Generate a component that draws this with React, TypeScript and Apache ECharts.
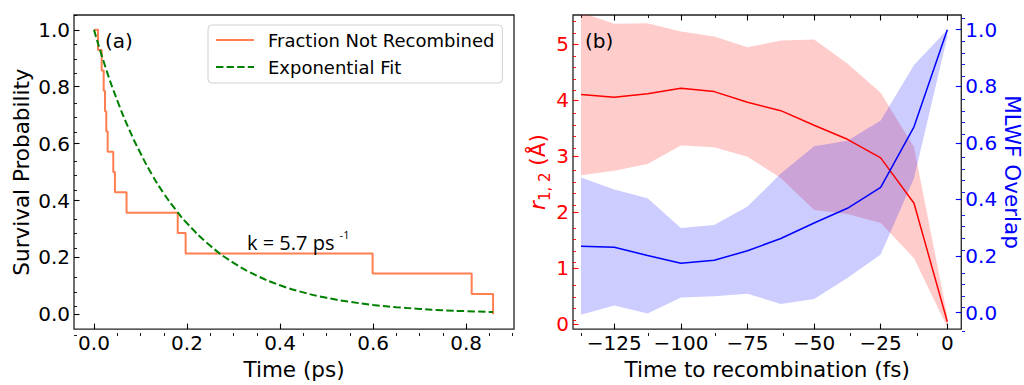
import React, { useEffect, useRef } from "react";
import * as echarts from "echarts";

// ---- Panel (a): survival probability ----
const stepTimes = [0, 0.0086, 0.0165, 0.0208, 0.0236, 0.0264, 0.0294, 0.0414, 0.045, 0.07, 0.18, 0.197, 0.599, 0.812, 0.858];
const stepValues = [1, 0.929, 0.857, 0.786, 0.714, 0.643, 0.571, 0.5, 0.429, 0.357, 0.286, 0.214, 0.143, 0.071, 0];
const fitTimes = [0, 0.025, 0.05, 0.075, 0.1, 0.125, 0.15, 0.175, 0.2, 0.25, 0.3, 0.35, 0.4, 0.45, 0.5, 0.55, 0.6, 0.65, 0.7, 0.75, 0.8, 0.858];
const fitValues = [1, 0.867, 0.752, 0.652, 0.566, 0.49, 0.425, 0.369, 0.32, 0.241, 0.181, 0.136, 0.102, 0.077, 0.058, 0.044, 0.033, 0.025, 0.019, 0.014, 0.011, 0.008];
const xTicksA = [0, 0.2, 0.4, 0.6, 0.8];
const yTicksA = [0, 0.2, 0.4, 0.6, 0.8, 1.0];

// ---- Panel (b): r12 and MLWF overlap ----
const timeToRecomb = [-137.5, -125, -112.5, -100, -87.5, -75, -62.5, -50, -37.5, -25, -12.5, 0];
const r12Mean = [4.1, 4.05, 4.11, 4.21, 4.15, 3.96, 3.81, 3.55, 3.3, 2.97, 2.16, 0.05];
const r12Upper = [5.56, 5.36, 5.37, 5.22, 5.13, 4.94, 5.06, 5.08, 4.65, 4.13, 3.16, 0.15];
const r12Lower = [2.66, 2.74, 2.86, 3.19, 3.16, 2.99, 2.61, 2.04, 1.97, 1.81, 1.18, -0.05];
const overlapMean = [0.235, 0.231, 0.202, 0.175, 0.185, 0.219, 0.262, 0.317, 0.369, 0.443, 0.657, 1.0];
const overlapUpper = [0.478, 0.435, 0.404, 0.299, 0.31, 0.375, 0.492, 0.588, 0.608, 0.679, 0.875, 1.0];
const overlapLower = [-0.007, 0.025, -0.003, 0.054, 0.058, 0.067, 0.031, 0.048, 0.123, 0.206, 0.475, 0.975];
const xTicksB = [-125, -100, -75, -50, -25, 0];
const rTicks = [0, 1, 2, 3, 4, 5];
const oTicks = [0, 0.2, 0.4, 0.6, 0.8, 1.0];

const FONT = "'DejaVu Sans', sans-serif";
const TICK_FS = 20;
const NAME_FS = 21.5;

function minorTicks(min: number, max: number, step: number, major: number): number[] {
  const out: number[] = [];
  const k0 = Math.ceil(min / step - 1e-9);
  const k1 = Math.floor(max / step + 1e-9);
  for (let k = k0; k <= k1; k++) {
    const v = Math.round(k * step * 1e6) / 1e6;
    const r = v / major;
    if (Math.abs(r - Math.round(r)) < 1e-6) continue;
    out.push(v);
  }
  return out;
}

const zip = (a: number[], b: number[]) => a.map((v, i) => [v, b[i]]);

function axis(o: any) {
  const base: any = {
    type: "value",
    gridIndex: o.grid,
    position: o.position,
    min: o.min,
    max: o.max,
    axisLine: { show: false, onZero: false },
    splitLine: { show: false },
    axisTick: {
      show: true,
      inside: true,
      length: o.minor ? 3 : 5.5,
      customValues: o.ticks,
      lineStyle: { color: o.color || "#000", width: o.minor ? 0.9 : 1.1 },
    },
    axisLabel: o.labels
      ? {
          show: true,
          customValues: o.ticks,
          formatter: o.formatter,
          color: o.color || "#000",
          fontSize: TICK_FS,
          fontFamily: FONT,
          margin: o.margin ?? 4,
        }
      : { show: false },
  };
  if (o.name) {
    base.name = o.name;
    base.nameLocation = "middle";
    base.nameGap = o.nameGap;
    if (o.nameRotate != null) base.nameRotate = o.nameRotate;
    base.nameTextStyle = {
      color: o.color || "#000",
      fontSize: NAME_FS,
      fontFamily: FONT,
      ...(o.nameTextStyle || {}),
    };
  }
  return base;
}

const fmt1 = (v: number) => v.toFixed(1);
const fmtMinus = (v: number) => String(Math.round(v)).replace("-", "\u2212");

function bandSeries(xIdx: number, yIdx: number, xs: number[], lo: number[], hi: number[], fill: string) {
  return {
    type: "custom",
    coordinateSystem: "cartesian2d",
    xAxisIndex: xIdx,
    yAxisIndex: yIdx,
    clip: true,
    silent: true,
    data: xs.map((x, i) => [x, lo[i], hi[i]]),
    encode: { x: 0, y: [1, 2] },
    renderItem: (params: any, api: any) => {
      if (params.dataIndex !== 0) return null;
      const pts: number[][] = [];
      for (let i = 0; i < xs.length; i++) pts.push(api.coord([xs[i], hi[i]]));
      for (let i = xs.length - 1; i >= 0; i--) pts.push(api.coord([xs[i], lo[i]]));
      return { type: "polygon", shape: { points: pts }, style: { fill } };
    },
  };
}

export default function App() {
  const ref = useRef<HTMLDivElement>(null);
  useEffect(() => {
    if (!ref.current) return;
    const chart = echarts.init(ref.current, null, { renderer: "svg" });

    const aX = { min: -0.043, max: 0.903 };
    const aY = { min: -0.052, max: 1.052 };
    const bX = { min: -140.5, max: 5.25 };
    const bR = { min: -0.082, max: 5.515 };
    const bO = { min: -0.058, max: 1.052 };

    const gA = { left: 74, top: 15, width: 440, height: 321 };
    const gB = { left: 573, top: 15, width: 392, height: 321 };

    const option: any = {
      animation: false,
      grid: [
        { ...gA, show: true, borderColor: "#222", borderWidth: 1.3, backgroundColor: "transparent" },
        { ...gB, show: true, borderColor: "#222", borderWidth: 1.3, backgroundColor: "transparent" },
        { ...gA, show: false },
        { ...gB, show: false },
      ],
      xAxis: [
        axis({ grid: 0, position: "bottom", ...aX, ticks: xTicksA, labels: true, formatter: fmt1, name: "Time (ps)", nameGap: 28 }),
        axis({ grid: 1, position: "bottom", ...bX, ticks: xTicksB, labels: true, formatter: fmtMinus, name: "Time to recombination (fs)", nameGap: 28 }),
        axis({ grid: 1, position: "top", ...bX, ticks: xTicksB }),
        axis({ grid: 2, position: "bottom", ...aX, ticks: minorTicks(aX.min, aX.max, 0.05, 0.2), minor: true }),
        axis({ grid: 3, position: "bottom", ...bX, ticks: minorTicks(bX.min, bX.max, 12.5, 25), minor: true }),
        axis({ grid: 3, position: "top", ...bX, ticks: minorTicks(bX.min, bX.max, 12.5, 25), minor: true }),
      ],
      yAxis: [
        axis({ grid: 0, position: "left", ...aY, ticks: yTicksA, labels: true, formatter: fmt1, name: "Survival Probability", nameGap: 42 }),
        axis({
          grid: 1, position: "left", ...bR, ticks: rTicks, labels: true, formatter: (v: number) => String(Math.round(v)),
          color: "#ff0000", name: "{i|r}{s|1, 2}{n| (Å)}", nameGap: 14,
          nameTextStyle: {
            rich: {
              i: { fontStyle: "italic", fontSize: NAME_FS, fontFamily: FONT, color: "#ff0000", lineHeight: 30, verticalAlign: "middle" },
              s: { fontSize: 15, fontFamily: FONT, color: "#ff0000", lineHeight: 30, verticalAlign: "bottom" },
              n: { fontSize: NAME_FS, fontFamily: FONT, color: "#ff0000", lineHeight: 30, verticalAlign: "middle" },
            },
          },
        }),
        axis({
          grid: 1, position: "right", ...bO, ticks: oTicks, labels: true, formatter: fmt1,
          color: "#0000ff", name: "MLWF Overlap", nameGap: 39, nameRotate: -90,
        }),
        axis({ grid: 2, position: "left", ...aY, ticks: minorTicks(aY.min, aY.max, 0.05, 0.2), minor: true }),
        axis({ grid: 3, position: "left", ...bR, ticks: minorTicks(bR.min, bR.max, 0.2, 1), minor: true, color: "#ff0000" }),
        axis({ grid: 3, position: "right", ...bO, ticks: minorTicks(bO.min, bO.max, 0.04, 0.2), minor: true, color: "#0000ff" }),
      ],
      legend: {
        data: ["Fraction Not Recombined", "Exponential Fit"],
        orient: "vertical",
        left: 208,
        top: 25,
        itemWidth: 38,
        itemHeight: 18,
        itemGap: 9,
        padding: [6, 8, 7, 7],
        borderColor: "#d0d0d0",
        borderWidth: 1,
        borderRadius: 4,
        backgroundColor: "#ffffff",
        itemStyle: { opacity: 0 },
        textStyle: { fontSize: 18, fontFamily: FONT, color: "#000", padding: [0, 0, 0, 9] },
        selectedMode: false,
      },
      graphic: [
        { type: "text", x: 105, y: 41, z: 100, style: { text: "(a)", font: `20px ${FONT}`, fill: "#000", verticalAlign: "middle" } },
        { type: "text", x: 585, y: 41, z: 100, style: { text: "(b)", font: `20px ${FONT}`, fill: "#000", verticalAlign: "middle" } },
        {
          type: "text", x: 247, y: 242, z: 100,
          style: {
            text: "{a|k = 5.7 ps }{s|-1}",
            verticalAlign: "middle",
            rich: {
              a: { fontSize: 20, fontFamily: "'Open Sans', sans-serif", fill: "#000", lineHeight: 26, verticalAlign: "middle" },
              s: { fontSize: 11, fontFamily: "'Open Sans', sans-serif", fill: "#000", lineHeight: 26, verticalAlign: "top" },
            },
          },
        },
      ],
      series: [
        {
          name: "Fraction Not Recombined",
          type: "line",
          xAxisIndex: 0,
          yAxisIndex: 0,
          step: "end",
          symbol: "none",
          data: zip(stepTimes, stepValues),
          lineStyle: { color: "#ff7f50", width: 2 },
          itemStyle: { color: "#ff7f50" },
          z: 3,
        },
        {
          name: "Exponential Fit",
          type: "line",
          xAxisIndex: 0,
          yAxisIndex: 0,
          smooth: true,
          symbol: "none",
          data: zip(fitTimes, fitValues),
          lineStyle: { color: "#008000", width: 2, type: [7.4, 3.2] },
          itemStyle: { color: "#008000" },
          z: 3,
        },
        bandSeries(1, 1, timeToRecomb, r12Lower, r12Upper, "rgba(255,0,0,0.2)"),
        {
          type: "line", xAxisIndex: 1, yAxisIndex: 1, symbol: "none",
          data: zip(timeToRecomb, r12Mean), lineStyle: { color: "#ff0000", width: 1.5 },
        },
        bandSeries(1, 2, timeToRecomb, overlapLower, overlapUpper, "rgba(0,0,255,0.2)"),
        {
          type: "line", xAxisIndex: 1, yAxisIndex: 2, symbol: "none",
          data: zip(timeToRecomb, overlapMean), lineStyle: { color: "#0000ff", width: 1.5 },
        },
      ],
    };
    chart.setOption(option);
    return () => chart.dispose();
  }, []);
  return <div ref={ref} style={{ width: 1024, height: 385, position: "absolute", left: 0, top: 0 }} />;
}
